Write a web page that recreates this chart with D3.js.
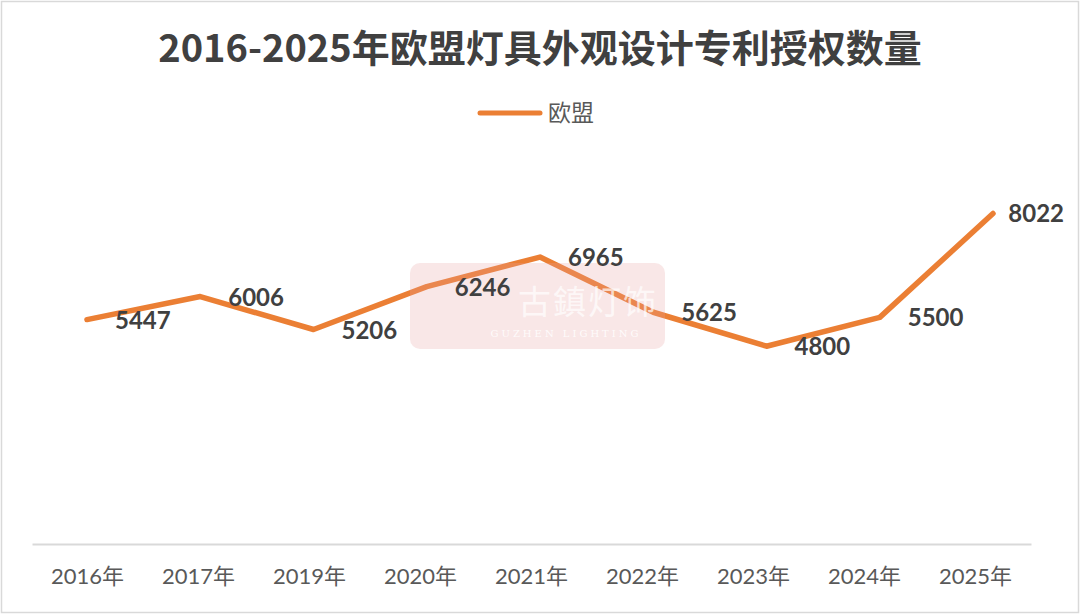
<!DOCTYPE html>
<html>
<head>
<meta charset="utf-8">
<script src="https://cdn.jsdelivr.net/npm/d3@7/dist/d3.min.js"></script>
<style>
  body { margin: 0; background: #fff; }
  svg { display: block; }
</style>
</head>
<body>
<div id="chart"></div>
<script>
// data
var years = ["2016年", "2017年", "2019年", "2020年", "2021年", "2022年", "2023年", "2024年", "2025年"];
var counts = [5447, 6006, 5206, 6246, 6965, 5625, 4800, 5500, 8022];
var seriesName = "欧盟";
var titleText = "2016-2025年欧盟灯具外观设计专利授权数量";

var W = 1080, H = 614;
var lineColor = "#EB7F34";

var svg = d3.select("#chart").append("svg")
    .attr("width", W)
    .attr("height", H);

// outer frame
svg.append("rect")
    .attr("x", 1.5).attr("y", 1.5)
    .attr("width", W - 3).attr("height", H - 3)
    .attr("fill", "#fff")
    .attr("stroke", "#d9d9d9")
    .attr("stroke-width", 1.5);

// title
svg.append("text")
    .attr("x", W / 2)
    .attr("y", 62)
    .attr("text-anchor", "middle")
    .style("font-family", "'Noto Sans CJK SC', sans-serif")
    .style("font-weight", "bold")
    .style("font-size", "38px")
    .style("fill", "#404040")
    .text(titleText);

// legend
svg.append("line")
    .attr("x1", 480).attr("x2", 540)
    .attr("y1", 113).attr("y2", 113)
    .attr("stroke", lineColor)
    .attr("stroke-width", 5)
    .attr("stroke-linecap", "round");
svg.append("text")
    .attr("x", 548)
    .attr("y", 121)
    .style("font-family", "'Noto Sans CJK SC', sans-serif")
    .style("font-size", "23px")
    .style("fill", "#595959")
    .text(seriesName);

// scales
var xAxisScale = d3.scaleBand().domain(years).range([32, 1031]);
var xScale = d3.scalePoint().domain(years).range([87, 993]);
var yScale = d3.scaleLinear().domain([0, 10000]).range([544, 132]);

// x axis
var xAxis = svg.append("g")
    .attr("transform", "translate(0,544)")
    .call(d3.axisBottom(xAxisScale).tickSize(0).tickPadding(24));
xAxis.select(".domain")
    .attr("stroke", "#d9d9d9")
    .attr("stroke-width", 2);
xAxis.selectAll("text")
    .style("font-family", "Lato, 'Noto Sans CJK SC', sans-serif")
    .style("font-size", "22px")
    .style("fill", "#595959");

var pts = years.map(function (y, i) { return { name: y, value: counts[i] }; });

// line
var line = d3.line()
    .x(d => xScale(d.name))
    .y(d => yScale(d.value));
svg.append("path")
    .datum(pts)
    .attr("d", line)
    .attr("fill", "none")
    .attr("stroke", lineColor)
    .attr("stroke-width", 5.5)
    .attr("stroke-linejoin", "round")
    .attr("stroke-linecap", "round");

// watermark (semi-transparent, over the line)
var wm = svg.append("g");
wm.append("rect")
    .attr("x", 410).attr("y", 263)
    .attr("width", 255).attr("height", 86)
    .attr("rx", 10)
    .attr("fill", "rgba(232,160,160,0.25)");
wm.append("text")
    .attr("x", 518).attr("y", 314)
    .style("font-family", "'Noto Sans CJK SC', serif")
    .style("font-size", "33px")
    .style("letter-spacing", "2px")
    .style("fill", "rgba(255,255,255,0.7)")
    .text("古鎮灯饰");
wm.append("text")
    .attr("x", 566).attr("y", 337)
    .attr("text-anchor", "middle")
    .style("font-family", "'DejaVu Serif', serif")
    .style("font-size", "10px")
    .style("letter-spacing", "3px")
    .style("fill", "rgba(255,255,255,0.85)")
    .text("GUZHEN LIGHTING");

// data labels
svg.selectAll(".lbl")
    .data(pts)
    .enter()
    .append("text")
    .attr("class", "lbl")
    .attr("x", d => xScale(d.name) + 28)
    .attr("y", d => yScale(d.value) + 9)
    .style("font-family", "Lato, sans-serif")
    .style("font-weight", "bold")
    .style("font-size", "24px")
    .style("fill", "#404040")
    .text(d => d.value)
    .each(function () {
        var t = d3.select(this);
        var w = this.getComputedTextLength();
        var x = +t.attr("x");
        if (x + w > 1064) t.attr("x", 1064 - w);
    });
</script>
</body>
</html>
